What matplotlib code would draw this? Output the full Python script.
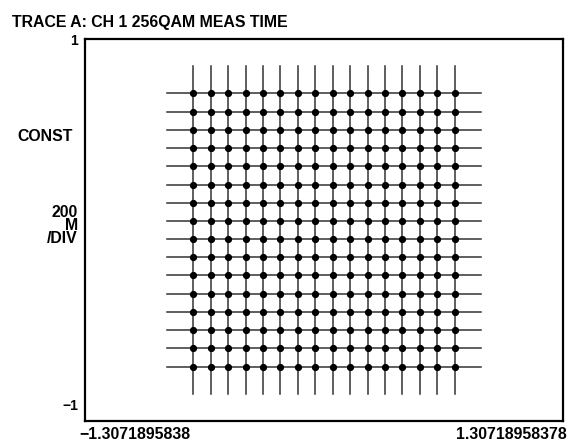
import matplotlib
matplotlib.use("Agg")
import matplotlib.pyplot as plt

plt.rcParams['font.family'] = ['Liberation Sans', 'DejaVu Sans']

# 256QAM symbol levels (I and Q)
levels = [-0.715, -0.620, -0.524, -0.429, -0.334, -0.238, -0.143, -0.048,
          0.048, 0.143, 0.238, 0.334, 0.429, 0.524, 0.620, 0.715]
line_extent = 0.86

x_min, x_max = -1.3071895838, 1.30718958378
y_min, y_max = -1, 1

title = "TRACE A: CH 1 256QAM MEAS TIME"
x_labels = ["\u22121.3071895838", "1.30718958378"]
y_labels = ["1", "\u22121"]
side_lines = ["200", "M", "/DIV"]

fig = plt.figure(figsize=(5.7, 4.43), dpi=100)
ax = fig.add_axes([85 / 570, 1 - 421 / 443, 478 / 570, 382 / 443])

for v in levels:
    ax.plot([v, v], [-line_extent, line_extent], color="#333333", lw=1.1, zorder=1)
    ax.plot([-line_extent, line_extent], [v, v], color="#333333", lw=1.1, zorder=1)

xs = [x for x in levels for y in levels]
ys = [y for x in levels for y in levels]
ax.plot(xs, ys, linestyle="none", marker="o", markersize=4.2, color="black", zorder=2)

ax.set_xlim(x_min, x_max)
ax.set_ylim(y_min, y_max)
ax.set_xticks([])
ax.set_yticks([])
for s in ax.spines.values():
    s.set_linewidth(1.6)


def put(px, py, s, ha, fs=11.4, **extra):
    # place text by pixel position of its (last line's) baseline
    fig.text(px / 570, 1 - py / 443, s, fontsize=fs, fontweight="bold",
             va="baseline", ha=ha, **extra)


put(12, 27, title, "left")
put(79, 439, x_labels[0], "left")
put(567, 439, x_labels[1], "right")
put(78, 45, y_labels[0], "right", fs=10)
put(78, 410, y_labels[1], "right", fs=10)
put(73, 141, "CONST", "right")
put(78, 243, "\n".join(side_lines), "right", multialignment="right", linespacing=0.82)

fig.savefig("out.png", dpi=100)
